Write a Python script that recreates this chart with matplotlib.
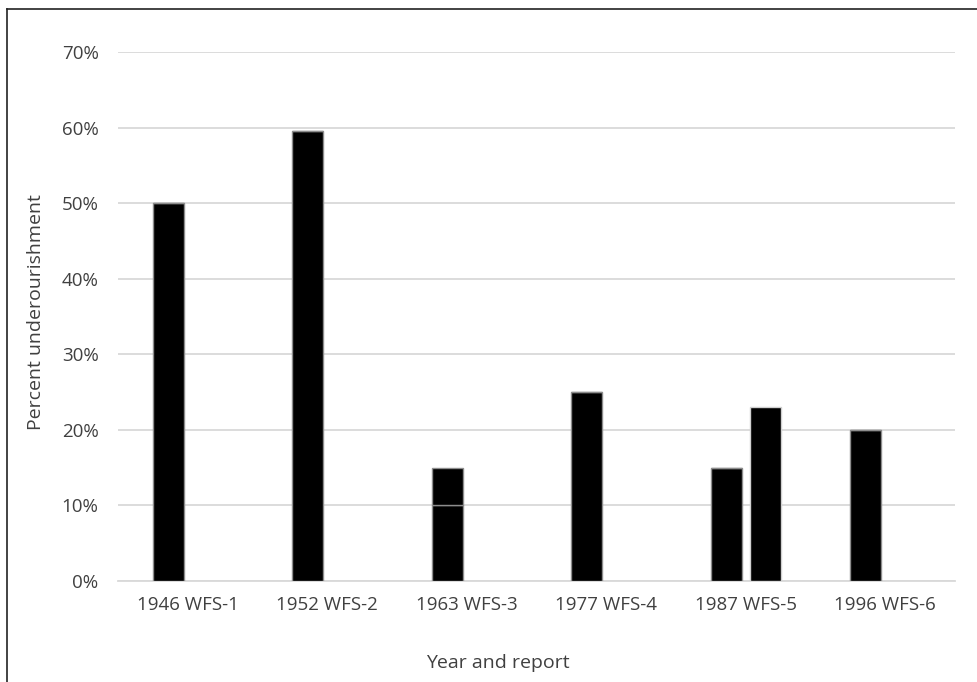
import numpy as np
import matplotlib.pyplot as plt
from matplotlib.lines import Line2D

plt.rcParams['font.family'] = ['Open Sans', 'DejaVu Sans']

categories = ['1946 WFS-1', '1952 WFS-2', '1963 WFS-3', '1977 WFS-4', '1987 WFS-5', '1996 WFS-6']
# first series is drawn in two stacked parts (1963 shows a split at 10%)
series1_base = [50, 59.5, 10, 25, 15, 20]
series1_top = [0, 0, 5, 0, 0, 0]
series2 = [0, 0, 0, 0, 23, 0]
yticks = [0, 10, 20, 30, 40, 50, 60, 70]

fig = plt.figure(figsize=(9.78, 6.82), dpi=100)
ax = fig.add_axes([118 / 978, 1 - 581 / 682, (955 - 118) / 978, (581 - 52) / 682])

x = np.arange(len(categories))
w = 0.222
off = 0.14
edge = '#8c8c8c'
ax.bar(x - off, series1_base, w, color='black', edgecolor=edge, linewidth=1, zorder=3)
ax.bar(x - off, series1_top, w, bottom=series1_base, color='black', edgecolor=edge, linewidth=1, zorder=3)
s2 = [v if v > 0 else np.nan for v in series2]
ax.bar(x + off, s2, w, color='black', edgecolor='#d0d0d0', linewidth=1, zorder=3)

ax.set_xlim(-0.5, len(categories) - 0.5)
ax.set_ylim(0, 70)
ax.set_yticks(yticks)
ax.set_yticklabels([f'{t}%' for t in yticks])
ax.set_xticks(x)
ax.set_xticklabels(categories)
ax.yaxis.grid(True, color='#d9d9d9', linewidth=1.3, zorder=0)
ax.set_axisbelow(True)
for s in ['top', 'right', 'left']:
    ax.spines[s].set_visible(False)
ax.spines['bottom'].set_color('#d9d9d9')
ax.spines['bottom'].set_linewidth(1.3)
ax.tick_params(axis='both', length=0, labelsize=13.5, colors='#404040')
ax.tick_params(axis='y', pad=14)
ax.tick_params(axis='x', pad=11)

fig.text(36 / 978, 1 - 312 / 682, 'Percent underourishment', rotation=90,
         ha='center', va='center', fontsize=14, color='#404040')
fig.text(498 / 978, 1 - 663 / 682, 'Year and report', ha='center', va='center',
         fontsize=14, color='#404040')

# outer frame (left and top edges visible)
fig.add_artist(Line2D([7 / 978, 7 / 978], [0, 1 - 9 / 682], transform=fig.transFigure, color='#222222', lw=1.2))
fig.add_artist(Line2D([7 / 978, 1], [1 - 9 / 682, 1 - 9 / 682], transform=fig.transFigure, color='#222222', lw=1.2))

fig.savefig('out.png', dpi=100, facecolor='white')
